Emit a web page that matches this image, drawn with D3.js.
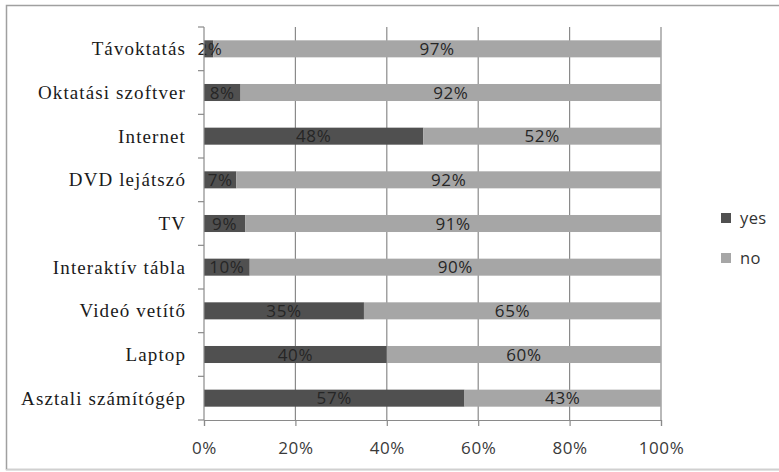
<!DOCTYPE html>
<html>
<head>
<meta charset="utf-8">
<script src="https://cdn.jsdelivr.net/npm/d3@7"></script>
<style>
  html, body { margin: 0; padding: 0; background: #fff; }
  svg { display: block; }
</style>
</head>
<body>
<svg id="chart" width="779" height="472"></svg>
<script>
// Survey: share of schools using each tool (yes / no)
const categories = [
  "Távoktatás", "Oktatási szoftver", "Internet", "DVD lejátszó", "TV",
  "Interaktív tábla", "Videó vetítő", "Laptop", "Asztali számítógép"
];
const yesValues = [2, 8, 48, 7, 9, 10, 35, 40, 57];
const noValues  = [97, 92, 52, 92, 91, 90, 65, 60, 43];
const seriesNames = ["yes", "no"];
const seriesColors = ["#505050", "#a6a6a6"];
const xTicks = [0, 0.2, 0.4, 0.6, 0.8, 1];

const svg = d3.select("#chart");
const W = 779;
const sans = "'Open Sans', 'DejaVu Sans', sans-serif";

// outer frame
svg.append("rect").attr("x", 6.5).attr("y", 5.5).attr("width", W + 10).attr("height", 464)
  .attr("fill", "#fff").attr("stroke", "#a0a0a0").attr("stroke-width", 1.5);
svg.append("line").attr("x1", 6).attr("x2", W).attr("y1", 470).attr("y2", 470)
  .attr("stroke", "#e0e0e0").attr("stroke-width", 1.5);

const plot = { left: 204, right: 661, top: 27, bottom: 420 };

const rows = categories.map((c, i) => ({ cat: c, yes: yesValues[i], no: noValues[i] }));
const stacked = d3.stack().keys(seriesNames).offset(d3.stackOffsetExpand)(rows);

const x = d3.scaleLinear().domain([0, 1]).range([plot.left, plot.right]);
const y = d3.scaleBand().domain(categories).range([plot.top, plot.bottom])
  .paddingInner(0.61).paddingOuter(0.305);
const color = d3.scaleOrdinal().domain(seriesNames).range(seriesColors);

// vertical gridlines
svg.append("g").selectAll("line").data(xTicks.slice(1)).join("line")
  .attr("x1", d => x(d)).attr("x2", d => x(d))
  .attr("y1", plot.top).attr("y2", plot.bottom)
  .attr("stroke", "#8a8a8a").attr("stroke-width", 1.2);

// bars
const layers = svg.append("g").selectAll("g").data(stacked).join("g")
  .attr("fill", d => color(d.key));
layers.selectAll("rect").data(d => d).join("rect")
  .attr("x", d => x(d[0]))
  .attr("width", d => x(d[1]) - x(d[0]))
  .attr("y", d => y(d.data.cat))
  .attr("height", y.bandwidth());

// value labels
const labels = svg.append("g")
  .attr("font-family", sans).attr("letter-spacing", 0.6)
  .attr("font-size", 17).attr("fill", "#262626").attr("text-anchor", "middle");
stacked.forEach(layer => {
  labels.selectAll(null).data(layer).join("text")
    .attr("x", d => Math.max((x(d[0]) + x(d[1])) / 2, plot.left + 6))
    .attr("y", d => y(d.data.cat) + y.bandwidth() / 2)
    .attr("dy", "0.36em")
    .text(d => d.data[layer.key] + "%");
});

// left axis line and ticks between categories
const axisColor = "#8a8a8a";
svg.append("line").attr("x1", plot.left).attr("x2", plot.left)
  .attr("y1", plot.top).attr("y2", plot.bottom)
  .attr("stroke", axisColor).attr("stroke-width", 1.2);
const bounds = d3.range(categories.length + 1).map(i => plot.top + i * y.step());
svg.append("g").selectAll("line").data(bounds).join("line")
  .attr("x1", plot.left - 6).attr("x2", plot.left)
  .attr("y1", d => d).attr("y2", d => d)
  .attr("stroke", axisColor).attr("stroke-width", 1.2);

// category labels
svg.append("g").selectAll("text").data(categories).join("text")
  .attr("x", plot.left - 18)
  .attr("y", d => y(d) + y.bandwidth() / 2)
  .attr("dy", "0.35em")
  .attr("text-anchor", "end")
  .attr("font-family", "'Liberation Serif', 'DejaVu Serif', serif")
  .attr("font-size", 19).attr("letter-spacing", 1.1).attr("fill", "#1a1a1a")
  .text(d => d);

// bottom axis
const xAxis = d3.axisBottom(x).tickValues(xTicks).tickFormat(d3.format(".0%"))
  .tickSize(6).tickPadding(16);
const gx = svg.append("g").attr("transform", `translate(0,${plot.bottom})`).call(xAxis);
gx.select(".domain").attr("stroke", axisColor).attr("stroke-width", 1.2);
gx.selectAll(".tick line").attr("stroke", axisColor).attr("stroke-width", 1.2);
gx.selectAll(".tick text")
  .attr("font-family", sans).attr("letter-spacing", 0.6)
  .attr("font-size", 17).attr("fill", "#3a3a3a");

// legend
const legend = svg.append("g").selectAll("g").data(seriesNames).join("g")
  .attr("transform", (d, i) => `translate(721,${213 + i * 40})`);
legend.append("rect").attr("width", 10).attr("height", 10).attr("fill", d => color(d));
legend.append("text").attr("x", 19).attr("y", 5).attr("dy", "0.35em")
  .attr("font-family", sans).attr("letter-spacing", 0.4)
  .attr("font-size", 16.5).attr("fill", "#333")
  .text(d => d);
</script>
</body>
</html>
